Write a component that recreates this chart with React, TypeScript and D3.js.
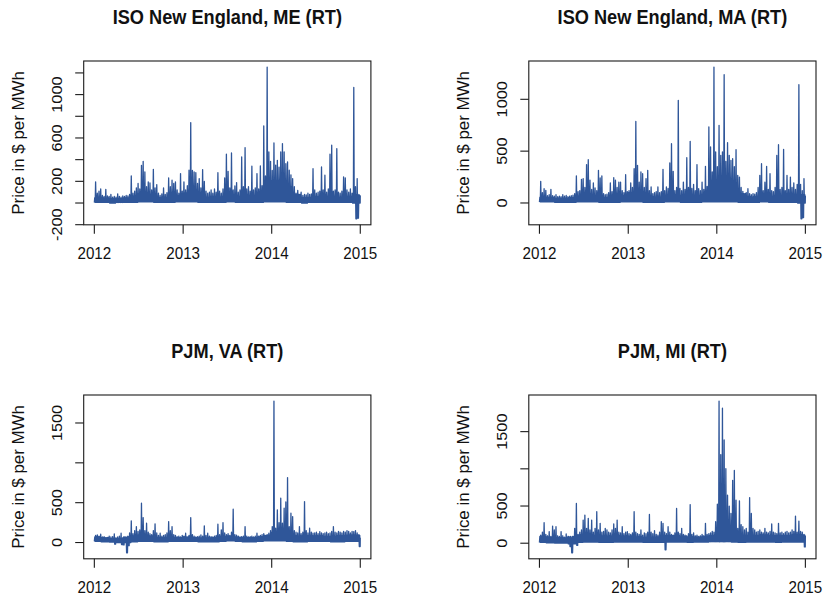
import React from "react";
import * as d3 from "d3";

// ---------------- DATA ----------------
const TITLES = [
  "ISO New England, ME (RT)",
  "ISO New England, MA (RT)",
  "PJM, VA (RT)",
  "PJM, MI (RT)",
];
const Y_LABEL = "Price in $ per MWh";
const X_TICK_YEARS = [2012, 2013, 2014, 2015];

// weekly peak prices (157 weeks starting 2012-01-01)
const ME_PEAKS = [
  195, 90, 110, 130, 70, 60, 126, 65, 60, 80, 55, 60, 55,
  85, 60, 55, 65, 60, 70, 65, 80, 250, 90, 110, 140, 180,
  130, 348, 385, 286, 150, 194, 185, 120, 311, 140, 170, 90, 70,
  85, 139, 80, 95, 231, 150, 210, 180, 195, 120, 90, 271, 110,
  194, 120, 160, 302, 742, 300, 286, 280, 180, 225, 140, 308, 200,
  110, 90, 100, 120, 90, 130, 100, 280, 110, 90, 130, 231, 450,
  292, 140, 462, 120, 157, 188, 100, 120, 425, 150, 511, 130, 150,
  110, 339, 120, 140, 271, 130, 342, 160, 711, 250, 1254, 471, 385,
  300, 554, 350, 394, 330, 471, 548, 471, 363, 379, 302, 260, 225,
  150, 90, 117, 80, 100, 70, 80, 75, 90, 80, 85, 317, 120,
  90, 100, 110, 333, 120, 256, 100, 130, 450, 533, 110, 120, 502,
  100, 90, 110, 240, 231, 120, 100, 130, 90, 1066, 150, 225, 80, 70,
];
const MA_PEAKS = [
  209, 100, 138, 122, 70, 80, 132, 70, 65, 80, 60, 65, 60,
  80, 65, 74, 60, 65, 70, 75, 90, 260, 110, 120, 228, 235,
  150, 370, 418, 219, 130, 193, 145, 120, 315, 241, 260, 90, 80,
  85, 100, 193, 110, 244, 219, 150, 202, 202, 120, 100, 273, 110,
  120, 193, 150, 331, 787, 363, 200, 299, 283, 150, 235, 315, 120,
  154, 90, 100, 110, 154, 100, 110, 325, 120, 154, 140, 386, 572,
  305, 120, 150, 990, 140, 120, 202, 130, 437, 150, 595, 140, 180,
  120, 370, 138, 120, 202, 130, 354, 160, 733, 540, 300, 1311, 492,
  350, 749, 460, 492, 1237, 400, 582, 460, 411, 427, 350, 514, 267,
  250, 150, 112, 90, 100, 138, 90, 80, 90, 85, 100, 150, 267,
  379, 120, 200, 354, 130, 283, 120, 110, 150, 460, 562, 130, 150,
  517, 120, 267, 130, 250, 150, 193, 130, 180, 1141, 180, 120, 235, 70,
];
const VA_PEAKS = [
  90, 96, 80, 105, 70, 75, 60, 65, 80, 70, 75, 109, 60,
  70, 80, 117, 60, 70, 65, 80, 120, 272, 110, 150, 200, 140,
  160, 493, 313, 150, 242, 130, 110, 100, 150, 234, 120, 90, 117,
  80, 90, 100, 120, 263, 150, 200, 100, 90, 75, 80, 70, 90,
  80, 117, 70, 90, 313, 100, 80, 70, 75, 80, 96, 80, 209,
  90, 117, 80, 75, 70, 80, 90, 230, 100, 159, 251, 120, 100,
  110, 90, 130, 418, 100, 92, 80, 70, 75, 80, 200, 80, 70,
  75, 80, 70, 80, 117, 80, 90, 100, 110, 90, 100, 117, 150,
  200, 1775, 180, 410, 250, 556, 242, 430, 510, 815, 200, 368, 326,
  150, 130, 120, 200, 110, 130, 514, 150, 120, 180, 130, 117, 120,
  130, 110, 138, 120, 110, 120, 130, 110, 120, 140, 200, 130, 120,
  140, 130, 120, 140, 130, 150, 140, 120, 140, 138, 150, 120, 100, 60,
];
const MI_PEAKS = [
  110, 150, 276, 120, 100, 156, 90, 231, 180, 222, 100, 90, 156,
  100, 80, 125, 90, 80, 70, 90, 200, 534, 120, 150, 178, 311,
  378, 200, 334, 180, 311, 150, 200, 423, 180, 267, 150, 160, 200,
  180, 150, 140, 180, 258, 200, 311, 150, 140, 222, 130, 150, 156,
  130, 120, 140, 423, 150, 130, 120, 178, 110, 140, 130, 150, 387,
  150, 130, 169, 120, 110, 150, 289, 267, 150, 130, 222, 150, 120,
  110, 140, 467, 150, 130, 200, 120, 110, 100, 130, 520, 120, 140,
  100, 110, 90, 100, 120, 100, 267, 120, 130, 140, 160, 150, 289,
  525, 1911, 1192, 1815, 1388, 1001, 645, 498, 400, 845, 979, 578, 200,
  570, 250, 222, 180, 200, 150, 614, 400, 200, 180, 150, 160, 178,
  150, 140, 200, 150, 140, 160, 258, 150, 140, 130, 267, 140, 150,
  130, 150, 160, 140, 150, 180, 160, 365, 150, 298, 160, 150, 120, 100,
];

// monthly typical daily high (36 months, 2012-01 .. 2014-12)
const ME_BAND = [50, 45, 40, 40, 45, 60, 70, 60, 45, 45, 50, 60, 90, 80, 60, 50, 50, 55, 70, 55, 50, 50, 60, 90, 200, 220, 150, 80, 50, 50, 55, 50, 45, 50, 55, 70];
const MA_BAND = [55, 50, 45, 45, 50, 65, 80, 65, 50, 50, 55, 65, 100, 90, 65, 55, 55, 60, 80, 60, 55, 55, 65, 100, 220, 240, 160, 90, 55, 60, 65, 55, 50, 55, 60, 80];
const VA_BAND = [70, 60, 50, 50, 70, 80, 90, 80, 60, 60, 60, 60, 70, 60, 55, 55, 60, 70, 80, 65, 60, 60, 70, 90, 120, 110, 100, 80, 80, 80, 80, 75, 75, 80, 90, 90];
const MI_BAND = [90, 80, 70, 70, 90, 110, 110, 100, 90, 90, 90, 90, 90, 80, 70, 70, 80, 100, 100, 90, 80, 80, 90, 100, 150, 140, 120, 100, 100, 100, 110, 100, 100, 100, 110, 110];

// monthly typical low
const ME_LOW = [5, 5, 0, 5, 5, 5, 10, 10, 5, 5, 5, 10, 10, 10, 5, 5, 5, 5, 10, 5, 5, 5, 5, 10, 10, 10, 5, 5, 0, 5, 5, 5, 5, 5, 5, 0];
const MA_LOW = [10, 10, 5, 5, 5, 10, 10, 10, 5, 5, 5, 10, 10, 10, 5, 5, 5, 10, 10, 5, 5, 5, 10, 10, 10, 10, 10, 5, 5, 5, 10, 5, 5, 5, 5, 0];
const VA_LOW = [15, 10, 5, 0, 0, 10, 15, 15, 10, 10, 15, 15, 15, 15, 10, 10, 10, 15, 20, 15, 10, 10, 15, 20, 20, 20, 15, 10, 10, 15, 15, 15, 10, 10, 15, 15];
const MI_LOW = [10, 5, 0, 0, -10, 10, 15, 15, 10, 10, 15, 15, 15, 15, 10, 10, 10, 15, 15, 15, 10, 15, 15, 20, 20, 20, 15, 10, 15, 15, 15, 15, 10, 15, 15, 15];

// negative dips: [week index, price]
const ME_DIPS: [number, number][] = [[154, -145], [155, -140]];
const MA_DIPS: [number, number][] = [[154, -152], [155, -140]];
const VA_DIPS: [number, number][] = [[12, -20], [16, -25], [17, -29], [19, -128], [20, -40], [156, -50]];
const MI_DIPS: [number, number][] = [[18, -45], [19, -128], [22, -30], [74, -89], [156, -50]];

// y ticks and labelled ticks
const ME_Y_TICKS = [-200, 0, 200, 400, 600, 800, 1000, 1200];
const ME_Y_LABELS = [-200, 200, 600, 1000];
const MA_Y_TICKS = [0, 500, 1000];
const MA_Y_LABELS = [0, 500, 1000];
const VA_Y_TICKS = [0, 500, 1000, 1500];
const VA_Y_LABELS = [0, 500, 1500];
const MI_Y_TICKS = [0, 500, 1000, 1500];
const MI_Y_LABELS = [0, 500, 1500];

// ---------------- LAYOUT ----------------
const W = 826;
const H = 599;
const COL_LEFT = [83.7, 528.8];
const PLOT_W = 287.2;
const ROW_TOP = [61, 395];
const PLOT_H = 163.8;
const BLUE = "#2f5699";
const FONT = "'Liberation Sans', Arial, Helvetica, sans-serif";
const SY = 1.07;
const DAY = 86400000;
const T0 = Date.UTC(2012, 0, 1);
const TEND = Date.UTC(2014, 11, 31, 23);

type Pt = { t: number; v: number };

function buildPoints(peaks: number[], band: number[], low: number[], dips: [number, number][]): Pt[] {
  const dipMap = new Map(dips);
  const pts: Pt[] = [];
  const tAt = (w: number, f: number) => Math.min(TEND, T0 + (w + f) * 7 * DAY);
  peaks.forEach((pk, w) => {
    const mid = new Date(tAt(w, 0.5));
    const m = Math.min(35, (mid.getUTCFullYear() - 2012) * 12 + mid.getUTCMonth());
    const lo = dipMap.has(w) ? (dipMap.get(w) as number) : low[m];
    pts.push({ t: tAt(w, 0), v: lo });
    pts.push({ t: tAt(w, 0.25), v: band[m] });
    pts.push({ t: tAt(w, 0.5), v: lo });
    pts.push({ t: tAt(w, 0.75), v: pk });
  });
  return pts;
}

const PANELS = [
  { title: TITLES[0], peaks: ME_PEAKS, band: ME_BAND, low: ME_LOW, dips: ME_DIPS, yTicks: ME_Y_TICKS, yLabels: ME_Y_LABELS, col: 0, row: 0 },
  { title: TITLES[1], peaks: MA_PEAKS, band: MA_BAND, low: MA_LOW, dips: MA_DIPS, yTicks: MA_Y_TICKS, yLabels: MA_Y_LABELS, col: 1, row: 0 },
  { title: TITLES[2], peaks: VA_PEAKS, band: VA_BAND, low: VA_LOW, dips: VA_DIPS, yTicks: VA_Y_TICKS, yLabels: VA_Y_LABELS, col: 0, row: 1 },
  { title: TITLES[3], peaks: MI_PEAKS, band: MI_BAND, low: MI_LOW, dips: MI_DIPS, yTicks: MI_Y_TICKS, yLabels: MI_Y_LABELS, col: 1, row: 1 },
];

function Panel(p: typeof PANELS[number]) {
  const left = COL_LEFT[p.col];
  const top = ROW_TOP[p.row];
  const right = left + PLOT_W;
  const bottom = top + PLOT_H;
  const pts = buildPoints(p.peaks, p.band, p.low, p.dips);
  const [tmin, tmax] = d3.extent(pts, (d) => d.t) as [number, number];
  const [vmin, vmax] = d3.extent(pts, (d) => d.v) as [number, number];
  const tp = (tmax - tmin) * 0.04;
  const vp = (vmax - vmin) * 0.04;
  const x = d3.scaleUtc().domain([tmin - tp, tmax + tp]).range([left, right]);
  const y = d3.scaleLinear().domain([vmin - vp, vmax + vp]).range([bottom, top]);
  const line = d3.line<Pt>().x((d) => x(d.t)).y((d) => y(d.v));
  const cx = (left + right) / 2;
  const cy = (top + bottom) / 2;
  return (
    <g>
      <path d={line(pts) || ""} fill="none" stroke={BLUE} strokeWidth={1.3} strokeLinejoin="round" />
      <rect x={left} y={top} width={PLOT_W} height={PLOT_H} fill="none" stroke="#1a1a1a" strokeWidth={1.1} />
      {X_TICK_YEARS.map((yr) => {
        const xx = x(Date.UTC(yr, 0, 1));
        return (
          <g key={yr}>
            <line x1={xx} x2={xx} y1={bottom} y2={bottom + 9} stroke="#1a1a1a" strokeWidth={1.1} />
            <text transform={`translate(${xx},${bottom + 33.8}) scale(1,${SY})`} textAnchor="middle" fontSize={15.2} fontFamily={FONT} fill="#111">
              {yr}
            </text>
          </g>
        );
      })}
      {p.yTicks.map((v) => (
        <line key={v} x1={left - 8.5} x2={left} y1={y(v)} y2={y(v)} stroke="#1a1a1a" strokeWidth={1.1} />
      ))}
      {p.yLabels.map((v) => (
        <text key={v} transform={`translate(${left - 21.5},${y(v)}) scale(1,${SY}) rotate(-90)`} textAnchor="middle" fontSize={15.2} fontFamily={FONT} fill="#111">
          {String(v)}
        </text>
      ))}
      <text transform={`translate(${left - 59.6},${cy}) scale(1,${SY}) rotate(-90)`} textAnchor="middle" fontSize={15.8} fontFamily={FONT} fill="#111">
        {Y_LABEL}
      </text>
      <text transform={`translate(${cx},${top - 37.5}) scale(1,${SY})`} textAnchor="middle" fontSize={18.2} fontWeight="bold" fontFamily={FONT} fill="#111">
        {p.title}
      </text>
    </g>
  );
}

export default function App() {
  return (
    <svg width={W} height={H} viewBox={`0 0 ${W} ${H}`} style={{ position: "absolute", left: 0, top: 0, background: "#fff" }}>
      <rect x={0} y={0} width={W} height={H} fill="#fff" />
      {PANELS.map((p, i) => (
        <Panel key={i} {...p} />
      ))}
    </svg>
  );
}
